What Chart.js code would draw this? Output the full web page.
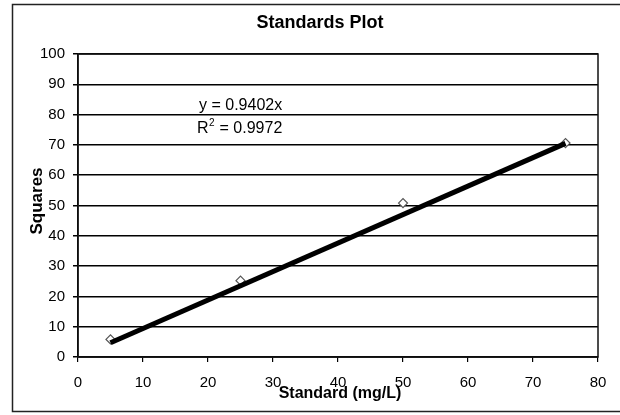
<!DOCTYPE html>
<html>
<head>
<meta charset="utf-8">
<script src="https://cdn.jsdelivr.net/npm/chart.js@4.4.1/dist/chart.umd.min.js"></script>
<style>
  html, body { margin: 0; padding: 0; background: #fff; }
  #wrap { width: 620px; height: 415px; position: relative; }
</style>
</head>
<body>
<div id="wrap"><canvas id="c" width="620" height="415"></canvas></div>
<script>
// ---- data ----
const chartTitle = "Standards Plot";
const xAxisTitle = "Standard (mg/L)";
const yAxisTitle = "Squares";
const standards = [5, 25, 50, 75];          // x values (mg/L)
const squares   = [5.8, 25.2, 50.8, 70.6];  // y values
const trendSlope = 0.9402;
const trendR2 = 0.9972;
const xTicks = [0, 10, 20, 30, 40, 50, 60, 70, 80];
const yTicks = [0, 10, 20, 30, 40, 50, 60, 70, 80, 90, 100];

const pointData = standards.map((x, i) => ({ x: x, y: squares[i] }));
const xMin = Math.min(...standards), xMax = Math.max(...standards);
const trendData = [xMin, xMax].map(x => ({ x: x, y: trendSlope * x }));

const FONT = "'Liberation Sans', Arial, sans-serif";

const decor = {
  id: 'decor',
  beforeDraw(chart) {
    const ctx = chart.ctx;
    ctx.save();
    ctx.fillStyle = '#fff';
    ctx.fillRect(0, 0, chart.width, chart.height);
    ctx.restore();
  },
  afterDraw(chart) {
    const ctx = chart.ctx;
    const a = chart.chartArea;
    ctx.save();
    // outer chart border
    ctx.strokeStyle = '#222';
    ctx.lineWidth = 1.5;
    ctx.beginPath();
    ctx.moveTo(640, 4.5); ctx.lineTo(12.5, 4.5); ctx.lineTo(12.5, 411.5); ctx.lineTo(640, 411.5);
    ctx.stroke();
    // plot area border
    ctx.strokeStyle = '#111';
    ctx.lineWidth = 1.5;
    ctx.strokeRect(a.left, a.top, a.right - a.left, a.bottom - a.top);
    // title
    ctx.fillStyle = '#000';
    ctx.textAlign = 'center';
    ctx.textBaseline = 'middle';
    ctx.font = 'bold 18px ' + FONT;
    ctx.fillText(chartTitle, 320, 23);
    // x axis title
    ctx.font = 'bold 16px ' + FONT;
    ctx.fillText(xAxisTitle, 340, 394);
    // y axis title
    ctx.save();
    ctx.translate(37, 201);
    ctx.rotate(-Math.PI / 2);
    ctx.font = 'bold 17px ' + FONT;
    ctx.fillText(yAxisTitle, 0, 0);
    ctx.restore();
    // trendline equation
    ctx.textAlign = 'left';
    ctx.font = '16px ' + FONT;
    ctx.fillText('y = ' + trendSlope.toFixed(4) + 'x', 199, 106);
    ctx.fillText('R', 197, 129);
    const rw = ctx.measureText('R').width;
    ctx.font = '10px ' + FONT;
    ctx.fillText('2', 197 + rw + 0.5, 123);
    const sw = ctx.measureText('2').width;
    ctx.font = '16px ' + FONT;
    ctx.fillText(' = ' + trendR2.toFixed(4), 197 + rw + sw + 1, 129);
    ctx.restore();
  }
};

new Chart(document.getElementById('c'), {
  type: 'scatter',
  data: {
    datasets: [
      {
        label: 'Linear',
        type: 'line',
        data: trendData,
        borderColor: '#000',
        borderWidth: 5,
        pointRadius: 0,
        fill: false,
        order: 1
      },
      {
        label: 'Standards',
        data: pointData,
        pointStyle: 'rectRot',
        pointRadius: 4.5,
        backgroundColor: '#fff',
        borderColor: '#555',
        borderWidth: 1.2,
        order: 2
      }
    ]
  },
  options: {
    responsive: false,
    animation: false,
    devicePixelRatio: 1,
    layout: { padding: { top: 54, right: 22, bottom: 0, left: 0 } },
    plugins: {
      legend: { display: false },
      tooltip: { enabled: false },
      title: { display: false }
    },
    scales: {
      x: {
        type: 'linear',
        min: 0, max: 80,
        afterFit(s) { s.height = 415 - 357; },
        afterBuildTicks(s) { s.ticks = xTicks.map(v => ({ value: v })); },
        grid: { drawOnChartArea: false, drawTicks: true, tickLength: 5, color: '#000', lineWidth: 1.2 },
        border: { display: true, color: '#000', width: 1.5 },
        ticks: { color: '#000', padding: 12, maxRotation: 0, font: { family: FONT, size: 15 } }
      },
      y: {
        type: 'linear',
        min: 0, max: 100,
        afterFit(s) { s.width = 78; },
        afterBuildTicks(s) { s.ticks = yTicks.map(v => ({ value: v })); },
        grid: { drawOnChartArea: true, drawTicks: true, tickLength: 5, color: '#000', lineWidth: 1.5 },
        border: { display: true, color: '#000', width: 1.5 },
        ticks: { color: '#000', padding: 8, font: { family: FONT, size: 15 } }
      }
    }
  },
  plugins: [decor]
});
</script>
</body>
</html>
